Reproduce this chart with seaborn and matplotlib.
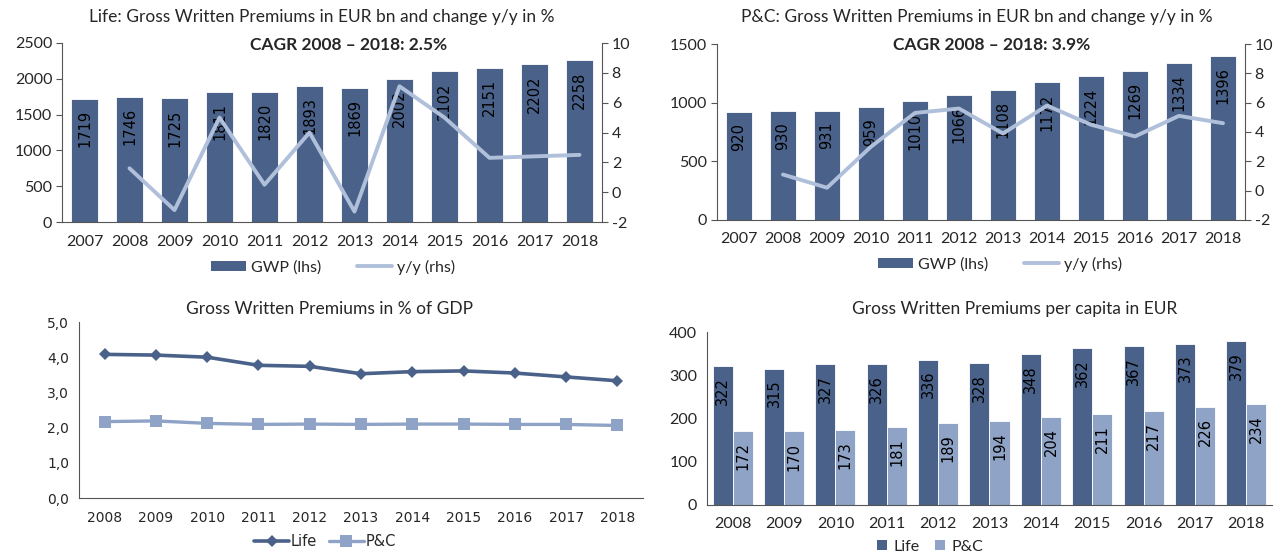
import numpy as np
import pandas as pd
import matplotlib
matplotlib.use("Agg")
import matplotlib.pyplot as plt
from matplotlib.lines import Line2D
from matplotlib.patches import Patch
from matplotlib.ticker import FuncFormatter, FixedLocator
import seaborn as sns

# dados
years_top = ["2007", "2008", "2009", "2010", "2011", "2012",
             "2013", "2014", "2015", "2016", "2017", "2018"]
life_gwp = [1719, 1746, 1725, 1811, 1820, 1893, 1869, 2002, 2102, 2151, 2202, 2258]
life_yoy = [1.6, -1.2, 5.0, 0.5, 4.0, -1.3, 7.1, 5.0, 2.3, 2.4, 2.5]
pc_gwp = [920, 930, 931, 959, 1010, 1066, 1108, 1172, 1224, 1269, 1334, 1396]
pc_yoy = [1.1, 0.2, 3.0, 5.3, 5.6, 3.9, 5.8, 4.5, 3.7, 5.1, 4.6]

years_bottom = ["2008", "2009", "2010", "2011", "2012", "2013",
                "2014", "2015", "2016", "2017", "2018"]
gdp_life = [4.08, 4.06, 4.00, 3.77, 3.74, 3.53, 3.59, 3.61, 3.55, 3.44, 3.33]
gdp_pc = [2.17, 2.19, 2.12, 2.09, 2.10, 2.09, 2.10, 2.10, 2.09, 2.09, 2.06]
capita_life = [322, 315, 327, 326, 336, 328, 348, 362, 367, 373, 379]
capita_pc = [172, 170, 173, 181, 189, 194, 204, 211, 217, 226, 234]

DARK = "#4a6289"
LIGHT = "#b0c0da"
MID = "#8ea3c6"
SPINE = "#555555"
FONT = "Lato"

sns.set_style("white")
plt.rcParams["font.family"] = [FONT, "DejaVu Sans"]
plt.rcParams["axes.unicode_minus"] = False

W, H = 1281, 555
fig = plt.figure(figsize=(W / 100, H / 100), dpi=100)


def px_axes(left, top, right, bottom):
    return fig.add_axes([left / W, 1 - bottom / H, (right - left) / W, (bottom - top) / H])


def style_cat_axis(ax, n, fontsize=11.5, family=FONT):
    ax.set_xlim(-0.5, n - 0.5)
    ax.xaxis.set_minor_locator(FixedLocator(np.arange(-0.5, n, 1.0)))
    ax.tick_params(axis="x", which="major", length=0, pad=9, labelsize=fontsize)
    ax.tick_params(axis="x", which="minor", length=5, width=0.8, color=SPINE, direction="out")
    for lab in ax.get_xticklabels():
        lab.set_family(family)
    ax.set_xlabel("")
    ax.set_ylabel("")


def spines(ax, sides):
    for s in ["left", "right", "top", "bottom"]:
        ax.spines[s].set_visible(s in sides)
        ax.spines[s].set_color(SPINE)
        ax.spines[s].set_linewidth(0.8)


def inside_labels(ax, cont):
    # rotulos verticais dentro da barra, perto do topo
    texts = ax.bar_label(cont, padding=-8, rotation=90, fontsize=10.5,
                         family="DejaVu Sans", color="black")
    for t in texts:
        t.set_va("top")


def top_panel(ax, gwp, yoy, ymax):
    df = pd.DataFrame({"year": years_top, "gwp": gwp})
    sns.barplot(data=df, x="year", y="gwp", color=DARK, saturation=1, width=0.6,
                edgecolor="white", linewidth=0.6, ax=ax)
    inside_labels(ax, ax.containers[0])
    ax.set_ylim(0, ymax)
    ax.set_yticks(np.arange(0, ymax + 1, 500))
    ax.tick_params(axis="y", length=4, width=0.8, color=SPINE, direction="out", labelsize=11.5, pad=3)
    style_cat_axis(ax, len(years_top))
    spines(ax, ["left", "bottom"])

    ax2 = ax.twinx()
    sns.lineplot(x=np.arange(1, len(years_top)), y=yoy, color=LIGHT, linewidth=2.8, ax=ax2)
    ax2.set_ylim(-2, 10)
    ax2.set_yticks(np.arange(-2, 11, 2))
    ax2.tick_params(axis="y", length=4, width=0.8, color=SPINE, direction="out", labelsize=11.5, pad=3)
    ax2.set_ylabel("")
    spines(ax2, ["right"])
    ax.set_xlim(-0.5, len(years_top) - 0.5)
    return ax2


# --- Life GWP ---
ax1 = px_axes(62, 43, 602, 222)
top_panel(ax1, life_gwp, life_yoy, 2500)
fig.text(322 / W, 1 - 17 / H, "Life: Gross Written Premiums in EUR bn and change y/y in %",
         ha="center", va="center", fontsize=12.5)
fig.text(349 / W, 1 - 45 / H, "CAGR 2008 \u2013 2018: 2.5%", ha="center", va="center",
         fontsize=12.5, fontweight="bold")

# --- P&C GWP ---
ax3 = px_axes(717, 44, 1245, 220)
top_panel(ax3, pc_gwp, pc_yoy, 1500)
fig.text(977 / W, 1 - 17 / H, "P&C: Gross Written Premiums in EUR bn and change y/y in %",
         ha="center", va="center", fontsize=12.5)
fig.text(992 / W, 1 - 45 / H, "CAGR 2008 \u2013 2018: 3.9%", ha="center", va="center",
         fontsize=12.5, fontweight="bold")

top_handles = [Patch(facecolor=DARK, edgecolor="none"),
               Line2D([0], [0], color=LIGHT, lw=2.8)]
fig.legend(top_handles, ["GWP (lhs)", "y/y (rhs)"], loc="center", ncol=2,
           bbox_to_anchor=(333 / W, 1 - 267 / H), frameon=False, fontsize=11.5,
           handlelength=2.2, handleheight=0.6, columnspacing=2.2, handletextpad=0.3)
fig.legend(top_handles, ["GWP (lhs)", "y/y (rhs)"], loc="center", ncol=2,
           bbox_to_anchor=(1000 / W, 1 - 264 / H), frameon=False, fontsize=11.5,
           handlelength=2.2, handleheight=0.6, columnspacing=2.2, handletextpad=0.3)

# --- GWP in % of GDP ---
ax5 = px_axes(79, 322, 643, 498)
x_pos = np.arange(len(years_bottom))
sns.lineplot(x=x_pos, y=gdp_life, color=DARK, linewidth=2.6, marker="D", markersize=6,
             markeredgewidth=0, ax=ax5)
sns.lineplot(x=x_pos, y=gdp_pc, color=MID, linewidth=2.4, marker="s", markersize=9,
             markeredgewidth=0, ax=ax5)
ax5.set_xticks(x_pos)
ax5.set_xticklabels(years_bottom)
ax5.set_ylim(0, 5)
ax5.set_yticks(np.arange(0, 5.1, 1))
ax5.yaxis.set_major_formatter(FuncFormatter(lambda v, p: f"{v:.1f}".replace(".", ",")))
ax5.tick_params(axis="y", length=4, width=0.8, color=SPINE, direction="out", labelsize=10, pad=3)
for lab in ax5.get_yticklabels():
    lab.set_family("DejaVu Sans")
style_cat_axis(ax5, len(years_bottom), fontsize=10, family="DejaVu Sans")
spines(ax5, ["left", "bottom"])
fig.text(330 / W, 1 - 309 / H, "Gross Written Premiums in % of GDP", ha="center", va="center",
         fontsize=12.5)
gdp_handles = [Line2D([0], [0], color=DARK, lw=2.6, marker="D", markersize=6, markeredgewidth=0),
               Line2D([0], [0], color=MID, lw=2.4, marker="s", markersize=9, markeredgewidth=0)]
fig.legend(gdp_handles, ["Life", "P&C"], loc="center", ncol=2,
           bbox_to_anchor=(325 / W, 1 - 542 / H), frameon=False,
           prop={"family": "DejaVu Sans", "size": 10.5},
           handlelength=2.4, columnspacing=0.8, handletextpad=0.1)

# --- GWP per capita ---
ax6 = px_axes(707, 332, 1272, 505)
df_cap = pd.DataFrame({"year": years_bottom * 2,
                       "value": capita_life + capita_pc,
                       "line": ["Life"] * len(years_bottom) + ["P&C"] * len(years_bottom)})
sns.barplot(data=df_cap, x="year", y="value", hue="line", palette=[DARK, MID], saturation=1,
            width=0.78, edgecolor="white", linewidth=0.6, legend=False, ax=ax6)
for cont in ax6.containers:
    inside_labels(ax6, cont)
ax6.set_ylim(0, 400)
ax6.set_yticks(np.arange(0, 401, 100))
ax6.tick_params(axis="y", length=4, width=0.8, color=SPINE, direction="out", labelsize=11.5, pad=3)
style_cat_axis(ax6, len(years_bottom))
spines(ax6, ["left", "bottom"])
fig.text(1015 / W, 1 - 309 / H, "Gross Written Premiums per capita in EUR", ha="center",
         va="center", fontsize=12.5)
cap_handles = [Patch(facecolor=DARK, edgecolor="none"), Patch(facecolor=MID, edgecolor="none")]
fig.legend(cap_handles, ["Life", "P&C"], loc="center", ncol=2,
           bbox_to_anchor=(930 / W, 1 - 547 / H), frameon=False, fontsize=11.5,
           handlelength=0.6, handleheight=0.6, columnspacing=1.0, handletextpad=0.4)

fig.savefig("out.png", dpi=100)
